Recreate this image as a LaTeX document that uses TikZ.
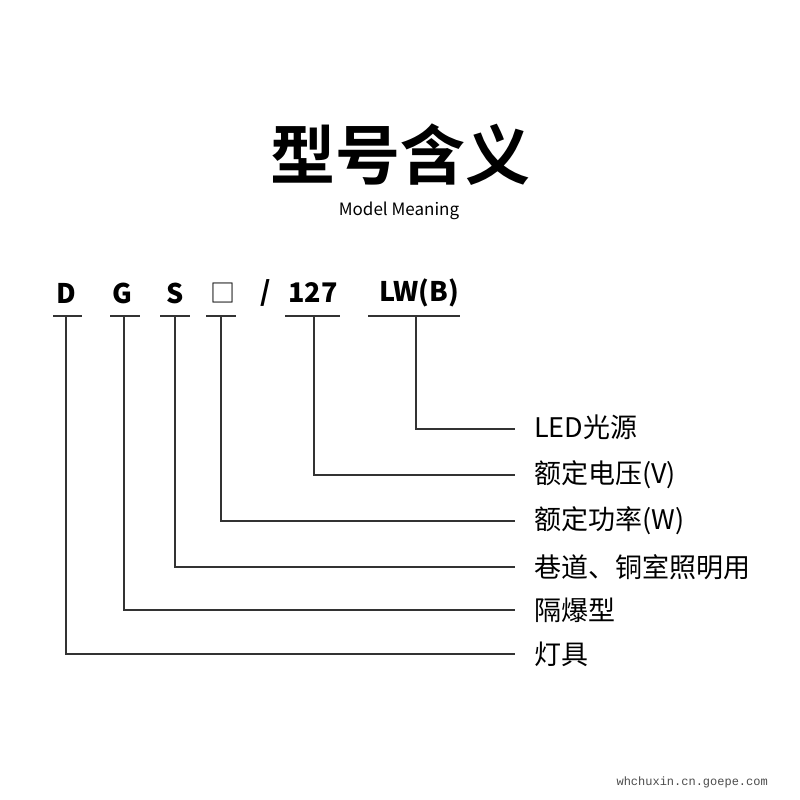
\documentclass[tikz,border=0pt]{standalone}
\usepackage{fontspec}
\setmainfont{Noto Sans}
\newfontfamily\cjk{Noto Sans CJK SC}
\newfontfamily\cjkb{Noto Sans CJK SC Bold}
\newfontfamily\mono{Liberation Mono}
\begin{document}
\begin{tikzpicture}[x=1pt,y=-1pt,
  code/.style={font=\cjk\bfseries\fontsize{27}{27}\selectfont, anchor=center, inner sep=0pt},
  lbl/.style={font=\cjk\fontsize{27}{27}\selectfont, anchor=west, inner sep=0pt},
  ln/.style={line width=1.6pt, draw=black!80}]
\useasboundingbox (0,0) rectangle (800,800);
\fill[white] (0,0) rectangle (800,800);
\node[font=\cjkb\fontsize{65}{65}\selectfont, inner sep=0pt] (title) at (400,155) {型号含义};
\node[font=\cjk\fontsize{17}{17}\selectfont, inner sep=0pt] (sub) at (399,211) {Model Meaning};
% code letters
\node[code] (cD) at (66,293) {D};
\node[code] (cG) at (122,293) {G};
\node[code] (cS) at (175,293) {S};
\node[font=\cjk\fontsize{25}{25}\selectfont, inner sep=0pt] (cB) at (223,293) {□};
\node[code] (cSl) at (266,293) {/};
\node[code] (c127) at (313,293) {127};
\node[code] (cLW) at (419,293) {LW(B)};
% underlines
\draw[ln] (53,316) -- (82,316);
\draw[ln] (110,316) -- (140,316);
\draw[ln] (160,316) -- (190,316);
\draw[ln] (206,316) -- (236,316);
\draw[ln] (285,316) -- (340,316);
\draw[ln] (368,316) -- (460,316);
% labels
\node[lbl] (l1) at (534,427) {LED光源};
\node[lbl] (l2) at (534,475) {额定电压(V)};
\node[lbl] (l3) at (534,521) {额定功率(W)};
\node[lbl] (l4) at (534,567) {巷道、铜室照明用};
\node[lbl] (l5) at (534,610) {隔爆型};
\node[lbl] (l6) at (534,654) {灯具};
% connectors
\draw[ln] (416,316) |- (515,429);
\draw[ln] (314,316) |- (515,475);
\draw[ln] (221,316) |- (515,521);
\draw[ln] (175,316) |- (515,567);
\draw[ln] (124,316) |- (515,610);
\draw[ln] (66,316) |- (515,654);
\node[font=\mono\fontsize{12}{12}\selectfont, text=black!70, inner sep=0pt, anchor=east] (wm) at (768,782) {whchuxin.cn.goepe.com};
\end{tikzpicture}
\end{document}
